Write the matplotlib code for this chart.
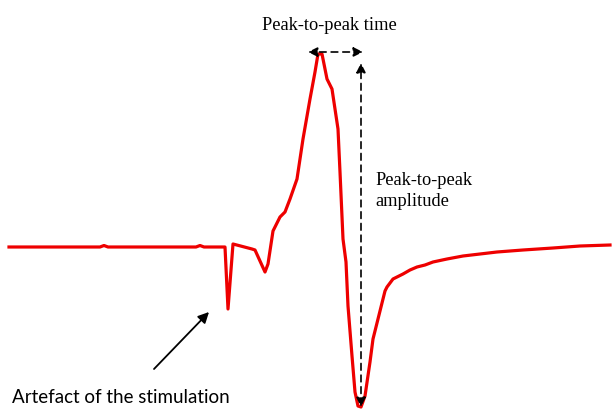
import numpy as np
import matplotlib.pyplot as plt

# trace (time in arbitrary units, amplitude relative to baseline)
time = [9, 100, 104, 108, 196, 200, 204, 225, 228, 233, 252, 255, 265, 268, 273,
        280, 285, 290, 297, 303, 310, 315, 318, 322, 327, 332, 338, 340, 343,
        346, 348, 352, 355, 358, 361, 365, 370, 373, 378, 385, 387, 393,
        403, 410, 417, 425, 433, 447, 463, 480, 497, 510, 523, 553, 580, 595, 610]
amplitude = [0, 0, 1.5, 0, 0, 1.5, 0, 0, -62, 3, -2, -3, -25, -17, 16,
             30, 35, 48, 68, 108, 148, 175, 193, 193, 168, 158, 118, 75, 8,
             -15, -59, -109, -145, -159, -160, -149, -115, -92, -72, -44, -40, -32,
             -27, -23, -20, -18, -15, -12, -9, -7, -5, -4, -3, -1, 1, 1.5, 2]

# annotation anchors
peak_t, trough_t = 318, 361
peak_a, trough_a = 193, -160

fig = plt.figure(figsize=(6.12, 4.10), dpi=100)
ax = fig.add_axes([0, 0, 1, 1])
ax.plot(time, amplitude, color='#ee0000', lw=2.3, solid_joinstyle='round')

arrow = dict(arrowstyle='<|-|>', color='black', lw=1.2, ls=(0, (4, 3)),
             mutation_scale=14, shrinkA=0, shrinkB=0)
ax.annotate('', xy=(peak_t - 10, 195), xytext=(trough_t + 2, 195), arrowprops=arrow)
ax.annotate('', xy=(trough_t, 184), xytext=(trough_t, trough_a), arrowprops=arrow)

ax.text(329, 222, 'Peak-to-peak time', ha='center', va='center',
        family='Liberation Serif', fontsize=13.2)
ax.text(375, 57, 'Peak-to-peak\namplitude', ha='left', va='center',
        family='Liberation Serif', fontsize=13.2, linespacing=1.3)

ax.annotate('', xy=(209, -65), xytext=(154, -122),
            arrowprops=dict(arrowstyle='-|>', color='black', lw=1.3,
                            mutation_scale=16, shrinkA=0, shrinkB=0))
ax.text(12, -150, 'Artefact of the stimulation', ha='left', va='center',
        family='Lato', fontsize=13.5)

ax.set_xlim(0, 612)
ax.set_ylim(-162, 248)
ax.axis('off')
fig.savefig('out.png', dpi=100)
